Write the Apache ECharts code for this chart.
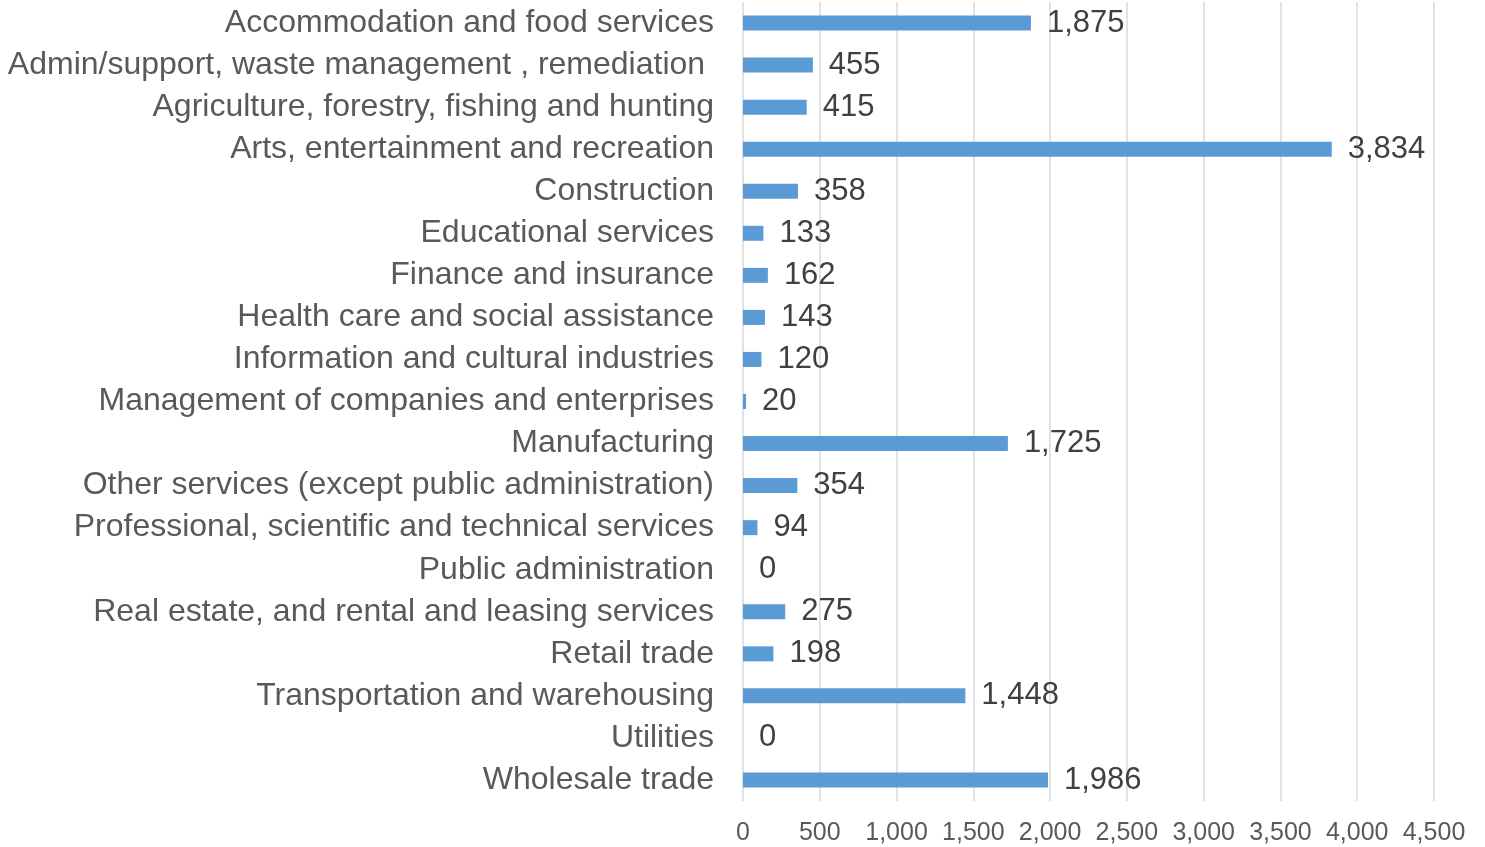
<!DOCTYPE html>
<html>
<head>
<meta charset="utf-8">
<script src="https://cdn.jsdelivr.net/npm/echarts@6/dist/echarts.min.js"></script>
<style>
html, body { margin: 0; padding: 0; background: #fff; }
#main { width: 1485px; height: 847px; }
</style>
</head>
<body>
<div id="main"></div>
<script>
var categories = [
	'Accommodation and food services',
	'Admin/support, waste management , remediation ',
	'Agriculture, forestry, fishing and hunting',
	'Arts, entertainment and recreation',
	'Construction',
	'Educational services',
	'Finance and insurance',
	'Health care and social assistance',
	'Information and cultural industries',
	'Management of companies and enterprises',
	'Manufacturing',
	'Other services (except public administration)',
	'Professional, scientific and technical services',
	'Public administration',
	'Real estate, and rental and leasing services',
	'Retail trade',
	'Transportation and warehousing',
	'Utilities',
	'Wholesale trade'
];
var values = [1875, 455, 415, 3834, 358, 133, 162, 143, 120, 20, 1725, 354, 94, 0, 275, 198, 1448, 0, 1986];

var axisMin = 0, axisMax = 4500, axisStep = 500;

function fmt(v) {
	return Number(v).toLocaleString('en-US');
}

var myChart = echarts.init(document.getElementById('main'));
var option = {
	animation: false,
	grid: {
		left: 743,
		right: 51,
		top: 2,
		bottom: 46
	},
	xAxis: {
		type: 'value',
		min: axisMin,
		max: axisMax,
		interval: axisStep,
		axisLine: { show: false },
		axisTick: { show: false },
		axisLabel: {
			color: '#595959',
			fontFamily: 'Liberation Sans',
			fontSize: 25,
			margin: 20,
			formatter: fmt
		},
		splitLine: {
			show: true,
			lineStyle: { color: '#d9d9d9', width: 1.5 }
		}
	},
	yAxis: {
		type: 'category',
		inverse: true,
		data: categories,
		axisLine: { show: false },
		axisTick: { show: false },
		axisLabel: {
			color: '#595959',
			fontFamily: 'Liberation Sans',
			fontSize: 32,
			margin: 29
		}
	},
	series: [{
		type: 'bar',
		data: values,
		barWidth: 15,
		itemStyle: { color: '#5b9bd5' },
		label: {
			show: true,
			position: 'right',
			distance: 16,
			color: '#404040',
			fontFamily: 'Liberation Sans',
			fontSize: 31,
			formatter: function (p) { return fmt(p.value); }
		}
	}]
};
myChart.setOption(option);
</script>
</body>
</html>
